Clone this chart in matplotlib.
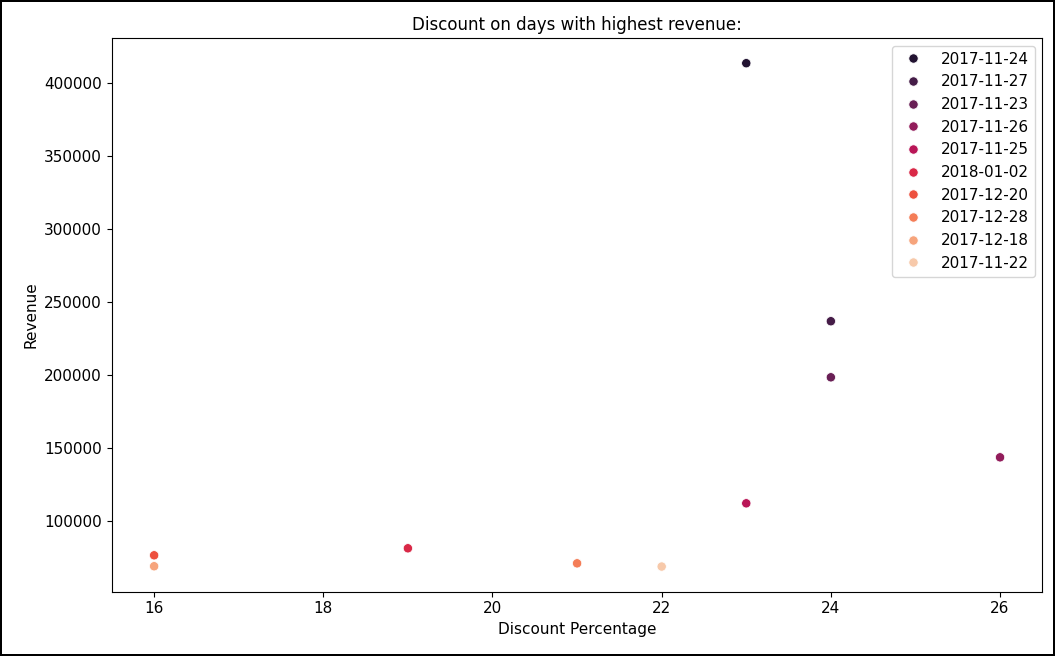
import matplotlib
matplotlib.use("Agg")
import matplotlib.pyplot as plt
import seaborn as sns
import pandas as pd

dates = ["2017-11-24", "2017-11-27", "2017-11-23", "2017-11-26", "2017-11-25",
         "2018-01-02", "2017-12-20", "2017-12-28", "2017-12-18", "2017-11-22"]
discount = [23, 24, 24, 26, 23, 19, 16, 21, 16, 22]
revenue = [413700, 237000, 198600, 143800, 112300, 81500, 76700, 71200, 69200, 69000]

df = pd.DataFrame({"date": dates, "Discount Percentage": discount, "Revenue": revenue})

plt.rcParams["font.size"] = 11
fig, ax = plt.subplots(figsize=(10.55, 6.56), dpi=100)
fig.patch.set_edgecolor("black")
fig.patch.set_linewidth(1.5)
sns.scatterplot(data=df, x="Discount Percentage", y="Revenue", hue="date",
                palette="rocket", s=45, ax=ax)
ax.tick_params(labelsize=11)
ax.set_xlabel("Discount Percentage", fontsize=11)
ax.set_ylabel("Revenue", fontsize=11)
ax.legend(loc="upper right", fontsize=11)
ax.set_title("Discount on days with highest revenue:", fontsize=12)
fig.subplots_adjust(left=0.106, right=0.988, top=0.942, bottom=0.098)
fig.savefig("out.png", dpi=100, edgecolor=fig.get_edgecolor())
